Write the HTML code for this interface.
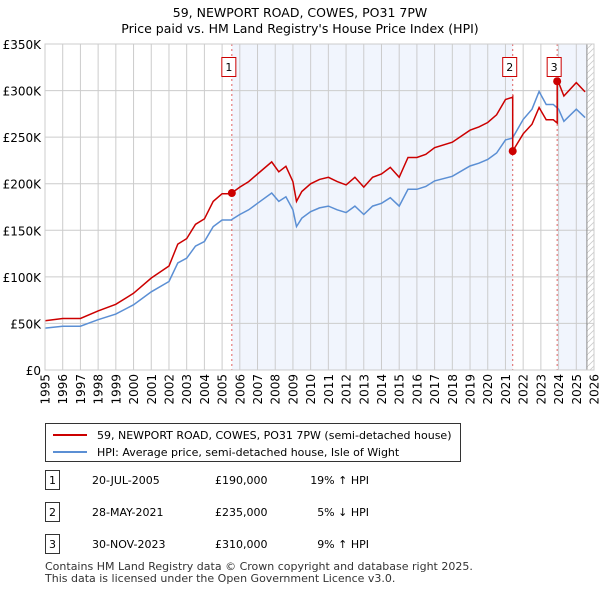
<!DOCTYPE html>
<html><head><meta charset="utf-8"><style>
body{margin:0;background:#fff;font-family:"Liberation Sans","DejaVu Sans",sans-serif;}
svg text{font-family:"DejaVu Sans","Liberation Sans",sans-serif;}
</style></head><body>
<svg width="600" height="590" viewBox="0 0 600 590" id="c">
<text x="300" y="17" text-anchor="middle" font-size="12.5">59, NEWPORT ROAD, COWES, PO31 7PW</text>
<text x="300" y="33" text-anchor="middle" font-size="12.5">Price paid vs. HM Land Registry's House Price Index (HPI)</text>
<g id="plot"></g>
<g>
<rect x="45.5" y="423.5" width="415" height="38" fill="#fff" stroke="#333"/>
<line x1="53" y1="435" x2="87" y2="435" stroke="#cc0000" stroke-width="2"/>
<text x="97" y="439" font-size="11">59, NEWPORT ROAD, COWES, PO31 7PW (semi-detached house)</text>
<line x1="53" y1="452" x2="87" y2="452" stroke="#5b8fd4" stroke-width="2"/>
<text x="97" y="456" font-size="11">HPI: Average price, semi-detached house, Isle of Wight</text>
</g>
<g id="table" font-size="11"></g>
<text x="45" y="570" font-size="11" fill="#333">Contains HM Land Registry data © Crown copyright and database right 2025.</text>
<text x="45" y="582" font-size="11" fill="#333">This data is licensed under the Open Government Licence v3.0.</text>
</svg>
<script>
const hpiYears=[1995,1996,1997,1998,1999,2000,2001,2002,2002.5,2003,2003.5,2004,2004.5,2005,2005.5,2006,2006.5,2007,2007.8,2008.2,2008.6,2009,2009.2,2009.5,2010,2010.5,2011,2011.5,2012,2012.5,2013,2013.5,2014,2014.5,2015,2015.5,2016,2016.5,2017,2018,2019,2019.5,2020,2020.5,2021,2021.4,2022,2022.5,2022.9,2023.3,2023.7,2024,2024.3,2025,2025.5];
const hpiValues=[45,47,47,54,60,70,84,95,115,120,133,138,154,161,161,167,172,179,190,181,186,172,154,163,170,174,176,172,169,176,167,176,179,185,176,194,194,197,203,208,219,222,226,233,247,249,269,280,299,285,285,280,267,280,271];
const saleDates=[2005.55,2021.41,2023.92];
const saleLabels=["20-JUL-2005","28-MAY-2021","30-NOV-2023"];
const salePrices=[190,235,310];
const saleDiff=["19% ↑ HPI","5% ↓ HPI","9% ↑ HPI"];
const yTicks=[0,50,100,150,200,250,300,350];
const yTickLabels=["£0","£50K","£100K","£150K","£200K","£250K","£300K","£350K"];

const X0=45,X1=594,Y0=370,Y1=44;
const xs=y=>X0+(y-1995)/(2026-1995)*(X1-X0);
const ys=v=>Y0-v/350*(Y0-Y1);
const NS="http://www.w3.org/2000/svg";
const plot=document.getElementById('plot');
function mk(tag,attrs,parent){const e=document.createElementNS(NS,tag);for(const k in attrs)e.setAttribute(k,attrs[k]);(parent||plot).appendChild(e);return e;}
function hpiAt(t){for(let i=1;i<hpiYears.length;i++){if(t<=hpiYears[i]){const a=hpiYears[i-1],b=hpiYears[i];return hpiValues[i-1]+(hpiValues[i]-hpiValues[i-1])*(t-a)/(b-a);}}return hpiValues[hpiValues.length-1];}

let e;
e=mk('rect',{x:X0,y:Y1,width:X1-X0,height:Y0-Y1,fill:'#fff'});


// shaded ranges
e=mk('rect',{x:xs(saleDates[0]),y:Y1,width:xs(saleDates[1])-xs(saleDates[0]),height:Y0-Y1,fill:'#eef3fc',opacity:0.8});


e=mk('rect',{x:xs(saleDates[2]),y:Y1,width:xs(2025.6)-xs(saleDates[2]),height:Y0-Y1,fill:'#eef3fc',opacity:0.8});


// hatch
const defs=mk('defs',{});
const pat=mk('pattern',{id:'h',width:6,height:6,patternUnits:'userSpaceOnUse'},defs);
mk('path',{d:'M0,6L6,0',stroke:'#ccc','stroke-width':0.8},pat);
e=mk('rect',{x:xs(2025.6),y:Y1,width:X1-xs(2025.6),height:Y0-Y1,fill:'url(#h)'});


// grid
for(let i=0;i<yTicks.length;i++){
 e=mk('line',{x1:X0,x2:X1,y1:ys(yTicks[i]),y2:ys(yTicks[i]),stroke:'#ccc'});
 
 
 e=mk('text',{x:X0-4,y:ys(yTicks[i])+5,'text-anchor':'end','font-size':12});
 e.textContent=yTickLabels[i];
 
 
}
for(let y=1995;y<=2026;y++){
 e=mk('line',{x1:xs(y),x2:xs(y),y1:Y1,y2:Y0,stroke:'#ccc'});
 
 
 e=mk('text',{transform:`translate(${xs(y)+4.5},${Y0+4}) rotate(-90)`,'text-anchor':'end','font-size':12});
 e.textContent=y;
 
 
}
e=mk('line',{x1:xs(2025.6),x2:xs(2025.6),y1:Y1,y2:Y0,stroke:'#888'});


// sale lines
for(let i=0;i<saleDates.length;i++){
 e=mk('line',{x1:xs(saleDates[i]),x2:xs(saleDates[i]),y1:Y1,y2:Y0,stroke:'#e06060','stroke-dasharray':'2,3'});
 
 
}
// HPI line
let d='';
for(let i=0;i<hpiYears.length;i++)d+=(i?'L':'M')+xs(hpiYears[i]).toFixed(1)+','+ys(hpiValues[i]).toFixed(1);
e=mk('path',{d:d,fill:'none',stroke:'#5b8fd4','stroke-width':1.5});


// price line: HPI scaled from most recent sale
function factorAt(t){let k=0;for(let i=0;i<saleDates.length;i++)if(t>=saleDates[i])k=i;return salePrices[k]/hpiAt(saleDates[k]);}
let pts=[];
const times=hpiYears.concat(saleDates).sort((a,b)=>a-b);
for(const t of times){
 if(saleDates.includes(t)){const k=saleDates.indexOf(t);if(k>0)pts.push([t,hpiAt(t)*salePrices[k-1]/hpiAt(saleDates[k-1])]);pts.push([t,salePrices[k]]);}
 else pts.push([t,hpiAt(t)*factorAt(t)]);
}
d='';pts.forEach((p,i)=>d+=(i?'L':'M')+xs(p[0]).toFixed(1)+','+ys(p[1]).toFixed(1));
e=mk('path',{d:d,fill:'none',stroke:'#cc0000','stroke-width':1.5});


for(let i=0;i<saleDates.length;i++){
 e=mk('circle',{cx:xs(saleDates[i]),cy:ys(salePrices[i]),r:4,fill:'#cc0000'});
 
 
 const bx=xs(saleDates[i])-10;
 e=mk('rect',{x:bx,y:57.5,width:14,height:19,fill:'#fff',stroke:'#cc0000'});
 
 
 e=mk('text',{x:bx+7,y:71,'text-anchor':'middle','font-size':11});
 e.textContent=i+1;
 
 
}
mk('rect',{x:X0,y:Y1,width:X1-X0,height:Y0-Y1,fill:'none',stroke:'#ccc'});
// table
const tb=document.getElementById('table');
const rowY=[482,514,546];
for(let i=0;i<saleDates.length;i++){
 const y=rowY[i];
 e=mk('rect',{x:45.5,y:y-11.5,width:14,height:19,fill:'#fff',stroke:'#333'},tb);
 
 
 e=mk('text',{x:52.5,y:y+2,'text-anchor':'middle'},tb);e.textContent=i+1;
 
 
 e=mk('text',{x:92,y:y+2},tb);e.textContent=saleLabels[i];
 
 
 e=mk('text',{x:215,y:y+2},tb);e.textContent='£'+salePrices[i]+',000';
 
 
 e=mk('text',{x:369,y:y+2,'text-anchor':'end'},tb);e.textContent=saleDiff[i];
 
 
}
</script>
</body></html>
